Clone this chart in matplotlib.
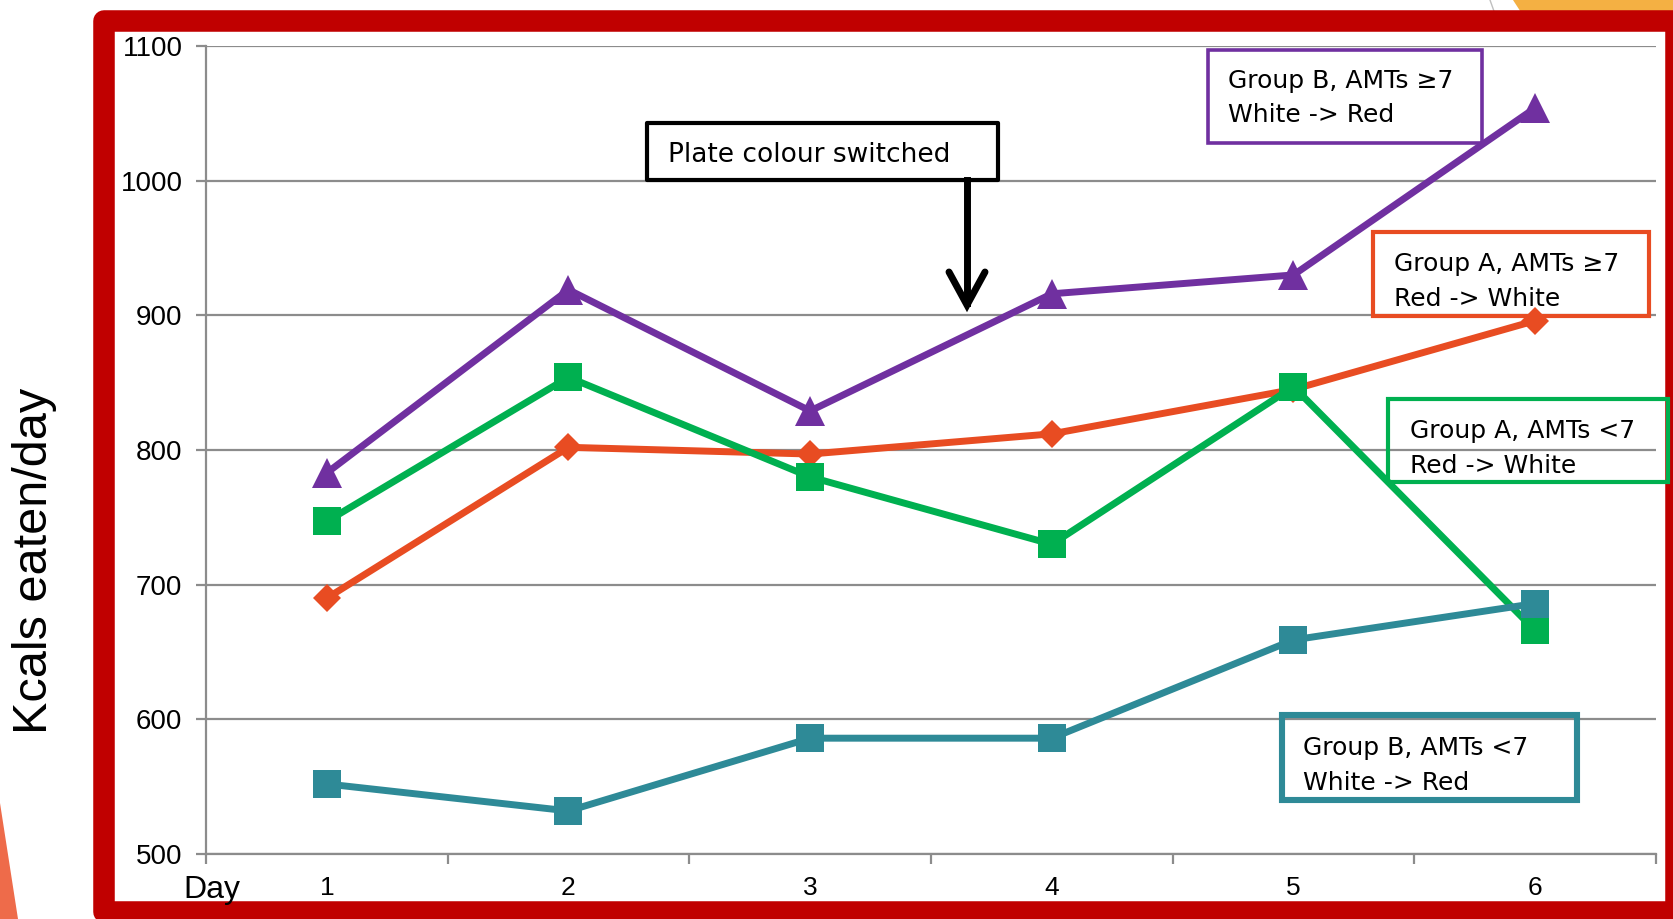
import matplotlib
matplotlib.use('agg')

import matplotlib.pyplot as plt
from matplotlib.patches import Rectangle, Polygon
from matplotlib.lines import Line2D

# data (kcals eaten per day)
days = [1, 2, 3, 4, 5, 6]
day_labels = ['1', '2', '3', '4', '5', '6']
group_b_high = [783, 919, 829, 916, 930, 1054]   # purple, triangles
group_a_high = [690, 802, 797, 812, 845, 896]    # orange, diamonds
group_a_low = [747, 854, 780, 730, 847, 666]     # green, squares
group_b_low = [552, 532, 586, 586, 659, 686]     # teal, squares
y_ticks = [500, 600, 700, 800, 900, 1000, 1100]

purple = '#7030A0'
orange = '#E84C22'
green = '#00B050'
teal = '#2E8A97'
grid_grey = '#8C8C8C'
tick_font = ['Liberation Sans Narrow', 'Liberation Sans', 'DejaVu Sans']

W, H = 1674, 919


def fx(x):
    return x / W


def fy(y):
    return 1 - y / H


fig = plt.figure(figsize=(W / 100, H / 100), dpi=100)
fig.patch.set_facecolor('white')

# slide decoration behind the frame
fig.add_artist(Polygon([(fx(1513), fy(0)), (fx(1674), fy(0)), (fx(1674), fy(20)), (fx(1526), fy(20))],
                       closed=True, transform=fig.transFigure, facecolor='#F4B043', edgecolor='none', zorder=-3))
fig.add_artist(Line2D([fx(1490), fx(1495)], [fy(0), fy(14)], transform=fig.transFigure,
                      color='#BFBFBF', lw=1, zorder=-3))
fig.add_artist(Polygon([(fx(0), fy(803)), (fx(18), fy(919)), (fx(0), fy(919))],
                       closed=True, transform=fig.transFigure, facecolor='#EE6B4A', edgecolor='none', zorder=-3))

# red frame
fig.add_artist(Rectangle((fx(104.5), fy(912)), fx(1676) - fx(104.5), fy(21) - fy(912),
                         transform=fig.transFigure, facecolor='white', edgecolor='#C00000',
                         lw=15.5, joinstyle='round', zorder=-2))

ax = fig.add_axes([fx(206), fy(854), fx(1656) - fx(206), fy(46) - fy(854)])
ax.set_facecolor('none')
ax.set_xlim(0.5, 6.5)
ax.set_ylim(500, 1100)

for side in ['top', 'right']:
    ax.spines[side].set_visible(False)
for side in ['left', 'bottom']:
    ax.spines[side].set_color(grid_grey)
    ax.spines[side].set_linewidth(1.6)

ax.set_yticks(y_ticks)
ax.yaxis.grid(True, color=grid_grey, lw=1.6)
ax.set_axisbelow(True)
ax.tick_params(axis='y', direction='out', length=7, width=1.6, color=grid_grey,
               labelsize=20, pad=10)
ax.set_xticks(days)
ax.set_xticklabels(day_labels)
ax.set_xticks([d + 0.5 for d in [0] + days], minor=True)
ax.tick_params(axis='x', which='major', length=0, labelsize=19, pad=16)
ax.tick_params(axis='x', which='minor', direction='out', length=7, width=1.6, color=grid_grey)
for lab in ax.get_xticklabels() + ax.get_yticklabels():
    lab.set_family(tick_font)

ax.plot(days, group_a_high, color=orange, lw=5, marker='D', ms=14.5, mew=0, zorder=3)
ax.plot(days, group_a_low, color=green, lw=5, marker='s', ms=20, mew=0, zorder=4)
ax.plot(days, group_b_low, color=teal, lw=5, marker='s', ms=20, mew=0, zorder=5)
ax.plot(days, group_b_high, color=purple, lw=5, marker='^', ms=21, mew=0, zorder=6)

# axis titles
fig.text(fx(35), fy(561), 'Kcals eaten/day', rotation=90, ha='center', va='center',
         fontsize=35, family=['Liberation Sans', 'DejaVu Sans'])
fig.text(fx(183), fy(898), 'Day', ha='left', va='baseline', fontsize=23,
         family=tick_font)

# labelled boxes: (left, top, right, bottom), text left, baselines, colour, lines, edge width
boxes = [
    ((1208, 50, 1482, 143), 1228, (88, 122), purple, ['Group B, AMTs \u22657', 'White -> Red'], 2.6),
    ((1373, 232, 1649, 316), 1394, (271, 306), orange, ['Group A, AMTs \u22657', 'Red -> White'], 3),
    ((1388, 399, 1668, 482), 1410, (438, 473), green, ['Group A, AMTs <7', 'Red -> White'], 3),
    ((1282, 715, 1577, 800), 1303, (755, 790), teal, ['Group B, AMTs <7', 'White -> Red'], 4.4),
]
for (l, t, r, b), tx, bases, col, lines, lw in boxes:
    fig.add_artist(Rectangle((fx(l), fy(b)), fx(r) - fx(l), fy(t) - fy(b), transform=fig.transFigure,
                             facecolor='none', edgecolor=col, lw=lw, zorder=2))
    for base, line in zip(bases, lines):
        fig.text(fx(tx), fy(base), line, ha='left', va='baseline', fontsize=18, color='black', zorder=7)

# plate colour switch callout
fig.add_artist(Rectangle((fx(647), fy(180)), fx(998) - fx(647), fy(123) - fy(180), transform=fig.transFigure,
                         facecolor='white', edgecolor='black', lw=3, joinstyle='round', zorder=2))
fig.text(fx(668), fy(162), 'Plate colour switched', ha='left', va='baseline', fontsize=19, zorder=7)
fig.add_artist(Line2D([fx(967), fx(967)], [fy(180), fy(303)], transform=fig.transFigure,
                      color='black', lw=5, zorder=7))
fig.add_artist(Line2D([fx(949), fx(967), fx(985)], [fy(272), fy(305), fy(272)], transform=fig.transFigure,
                      color='black', lw=5, solid_joinstyle='miter', solid_capstyle='round', zorder=7))

fig.savefig('out.png', dpi=100)
